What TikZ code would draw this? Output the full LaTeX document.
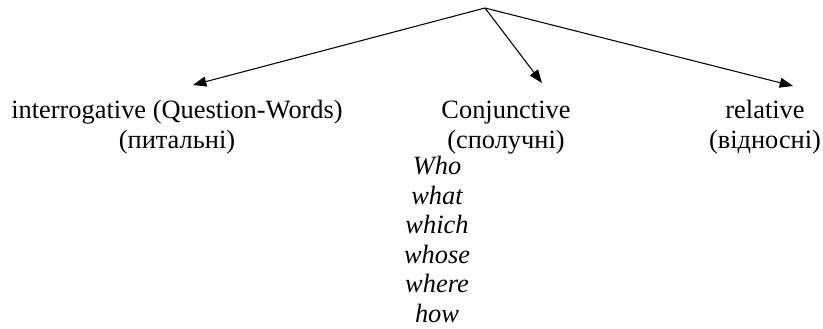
\documentclass[tikz,border=0pt]{standalone}
\usepackage{fontspec}
\setmainfont{Liberation Serif}
\usetikzlibrary{arrows.meta,positioning}

\begin{document}
\begin{tikzpicture}[x=0.75pt, y=-0.75pt,
  kind/.style={font=\fontsize{19.8}{22.3}\selectfont, align=center,
               inner sep=0pt, anchor=base},
  words/.style={kind, font=\fontsize{19.8}{22.1}\selectfont\itshape},
  branch/.style={-{Triangle[length=10pt, width=7.5pt]}, line width=0.8pt},
]
  \useasboundingbox (0,0) rectangle (823,328);

  % top of the tree and where the three arrows end
  \coordinate (root) at (485,8);
  \coordinate (tipq) at (193,85);
  \coordinate (tipc) at (542,83);
  \coordinate (tipr) at (793,86);

  % base anchor = baseline of the last line
  \node[kind] (interrog) at (177,148) {interrogative (Question-Words)\\(питальні)};
  \node[kind] (conj) at (506,148) {Conjunctive\\(сполучні)};
  \node[kind] (rel) at (765,148) {relative\\(відносні)};
  \node[words] (list) at (437,322) {Who\\what\\which\\whose\\where\\how};

  \draw[branch] (root) -- (tipq);
  \draw[branch] (root) -- (tipc);
  \draw[branch] (root) -- (tipr);
\end{tikzpicture}
\end{document}
